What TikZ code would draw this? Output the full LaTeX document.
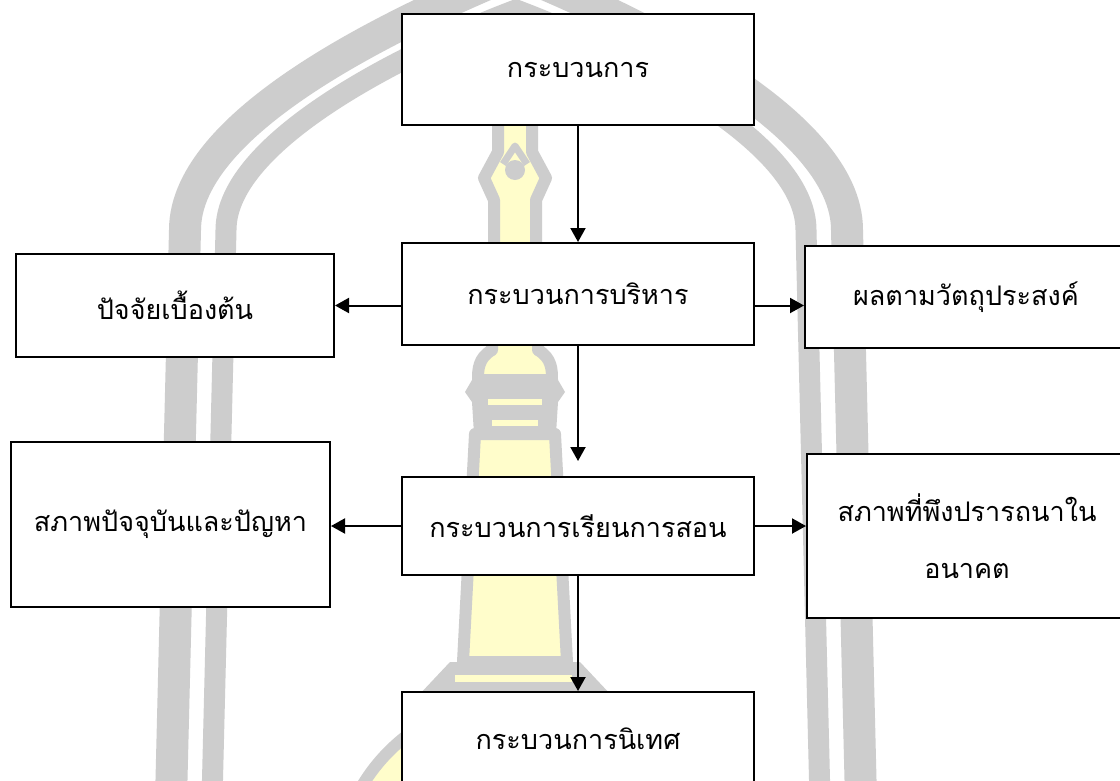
\documentclass[tikz,border=0pt]{standalone}
\usepackage{fontspec}
\newfontfamily\thaifont[Script=Thai]{Loma}
\usetikzlibrary{arrows.meta,calc}
\definecolor{wmgray}{HTML}{CDCDCD}
\definecolor{wmyellow}{HTML}{FFFDCB}
\begin{document}
\begin{tikzpicture}[x=1pt,y=-1pt,
  box/.style={draw=black,line width=2pt,fill=white,inner sep=0pt,
    font=\thaifont\fontsize{27}{57}\selectfont,align=center},
  conn/.style={line width=2pt,-{Triangle[length=14pt,width=15pt]}},
  stripeouter/.style={draw=wmgray,line width=32pt},
  stripeinner/.style={draw=wmgray,line width=21pt},
  towerpart/.style={fill=wmyellow,draw=wmgray,line width=12pt,line join=round}]
\useasboundingbox (0,0) rectangle (1120,780);
\clip (0,0) rectangle (1120,780);
\fill[white] (0,0) rectangle (1120,780);
% watermark arches
\draw[stripeouter] (171,800) -- (185,230) .. controls (185,120) and (400,20) .. (516,-28)
   .. controls (632,20) and (847,120) .. (847,230) -- (861,800);
\draw[stripeinner] (212,800) -- (226,230) .. controls (226,140) and (410,50) .. (516,10)
   .. controls (622,50) and (806,140) .. (806,230) -- (820,800);
% watermark tower
\filldraw[towerpart] (515,877) circle (178);
\filldraw[towerpart] (498,100) -- (498,152) -- (484,178) -- (494,200) -- (494,260)
   -- (536,260) -- (536,200) -- (546,178) -- (532,152) -- (532,100) -- cycle;
\fill[wmgray] (515,170) circle (10);
\draw[wmgray,line width=7pt,line join=round] (503,164) -- (515,146) -- (527,164);
\filldraw[towerpart] (492,330) -- (492,350) .. controls (478,358) and (478,370) .. (478,380)
   -- (552,380) .. controls (552,370) and (552,358) .. (538,350) -- (538,330) -- cycle;
\fill[wmgray] (472,380) -- (465,392) -- (472,402) -- (474,434) -- (556,434) -- (558,402)
   -- (565,392) -- (558,380) -- cycle;
\fill[wmyellow] (488,399) rectangle (542,405);
\fill[wmyellow] (492,420) rectangle (538,426);
\filldraw[towerpart] (475,434) -- (463,662) -- (567,662) -- (555,434) -- cycle;
\fill[wmgray] (450,662) -- (418,696) -- (612,696) -- (580,662) -- cycle;
\fill[wmyellow] (455,675) rectangle (572,682);
% boxes
\node[box,minimum width=352pt,minimum height=111pt] (b1) at (578,69.5) {กระบวนการ};
\node[box,minimum width=352pt,minimum height=102pt] (b2) at (578,294) {กระบวนการบริหาร};
\node[box,minimum width=352pt,minimum height=98pt] (b3) at (578,526) {กระบวนการเรียนการสอน};
\node[box,minimum width=352pt,minimum height=93pt] (b4) at (578,738.5) {กระบวนการนิเทศ};
\node[box,minimum width=318pt,minimum height=103pt] (l1) at (175,305.5) {ปัจจัยเบื้องต้น};
\node[box,minimum width=319pt,minimum height=165pt] (l2) at (170.5,524.5) {สภาพปัจจุบันและปัญหา};
\node[box,minimum width=322pt,minimum height=102pt] (r1) at (966,297) {ผลตามวัตถุประสงค์};
\node[box,minimum width=320pt,minimum height=164pt] (r2) at (967,536) {สภาพที่พึงปรารถนาใน\\อนาคต};
% connectors
\draw[conn] (b1.south) -- (b2.north);
\draw[conn] (b2.south) -- ($(b3.north)+(0,-15)$);
\draw[conn] (b3.south) -- (b4.north);
\draw[conn] (b2.west |- l1.east) -- (l1.east);
\draw[conn] (b2.east |- l1.east) -- (r1.west |- l1.east);
\draw[conn] (b3.west) -- (l2.east |- b3.west);
\draw[conn] (b3.east) -- (r2.west |- b3.east);
\end{tikzpicture}
\end{document}
